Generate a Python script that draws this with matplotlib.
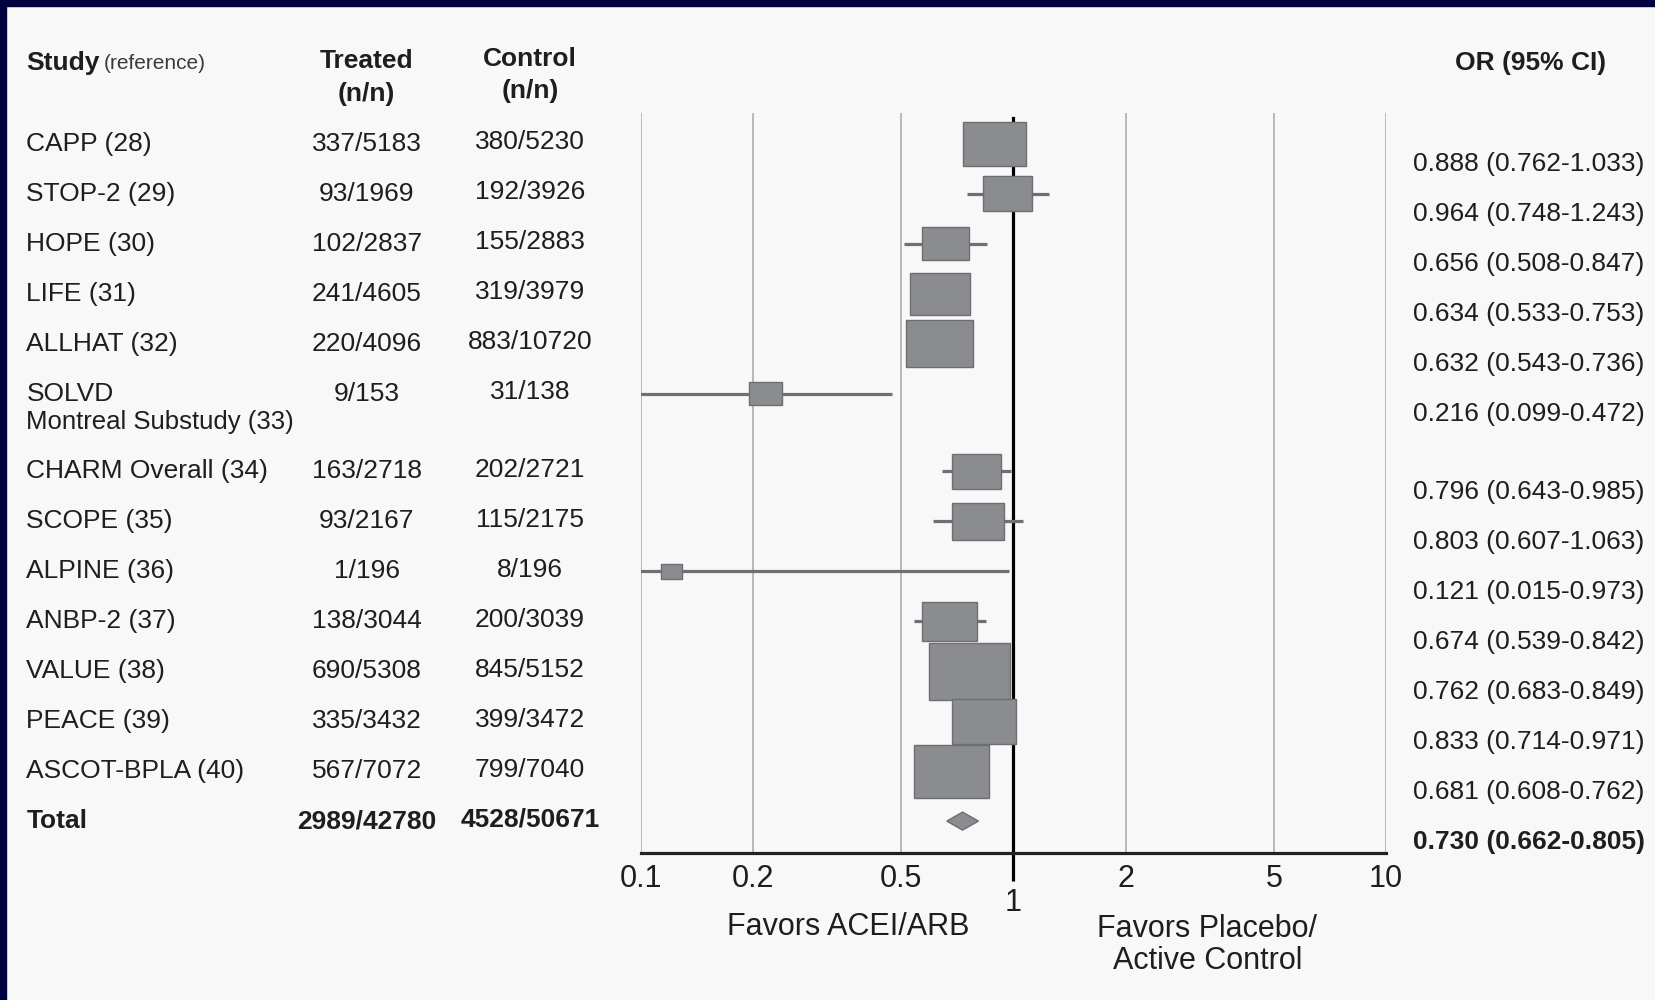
import numpy as np
import matplotlib
matplotlib.use("Agg")
import matplotlib.pyplot as plt
from matplotlib.patches import Rectangle, Polygon
from matplotlib.ticker import FixedLocator, FixedFormatter
from matplotlib.transforms import blended_transform_factory

plt.rcParams['font.family'] = ['Liberation Sans', 'DejaVu Sans']

# data
studies = ["CAPP (28)", "STOP-2 (29)", "HOPE (30)", "LIFE (31)", "ALLHAT (32)",
           "SOLVD", "CHARM Overall (34)", "SCOPE (35)", "ALPINE (36)",
           "ANBP-2 (37)", "VALUE (38)", "PEACE (39)", "ASCOT-BPLA (40)"]
treated = ["337/5183", "93/1969", "102/2837", "241/4605", "220/4096", "9/153",
           "163/2718", "93/2167", "1/196", "138/3044", "690/5308", "335/3432",
           "567/7072"]
control = ["380/5230", "192/3926", "155/2883", "319/3979", "883/10720", "31/138",
           "202/2721", "115/2175", "8/196", "200/3039", "845/5152", "399/3472",
           "799/7040"]
odds = [0.888, 0.964, 0.656, 0.634, 0.632, 0.216, 0.796, 0.803, 0.121, 0.674,
        0.762, 0.833, 0.681]
ci_low = [0.762, 0.748, 0.508, 0.533, 0.543, 0.099, 0.643, 0.607, 0.015, 0.539,
          0.683, 0.714, 0.608]
ci_high = [1.033, 1.243, 0.847, 0.753, 0.736, 0.472, 0.985, 1.063, 0.973, 0.842,
           0.849, 0.971, 0.762]
# relative study weight (box size)
weights = [0.88, 0.70, 0.66, 0.84, 0.94, 0.46, 0.70, 0.74, 0.30, 0.78, 1.14,
           0.90, 1.06]
total_treated, total_control = "2989/42780", "4528/50671"
total_or, total_lo, total_hi = 0.730, 0.662, 0.805
tick_vals = [0.1, 0.2, 0.5, 2, 5, 10]
tick_labels = ["0.1", "0.2", "0.5", "2", "5", "10"]

text_col = '#1e1e1e'
box_col = '#8a8c90'
edge_col = '#6c6e72'
line_col = '#6e7074'
narrow = ['Liberation Sans Narrow', 'Liberation Sans', 'DejaVu Sans']

fig = plt.figure(figsize=(16.56, 10), dpi=100, facecolor='#f8f8f8')
# navy frame on top and left
fig.patches.append(Rectangle((0, 0), 6 / 1656, 1, transform=fig.transFigure,
                             color='#00003f', zorder=0))
fig.patches.append(Rectangle((0, 1 - 6 / 1000), 1, 6 / 1000, transform=fig.transFigure,
                             color='#00003f', zorder=0))

ax = fig.add_axes([641 / 1656, 0.147, 745 / 1656, 0.74])
ax.set_facecolor('none')
ax.set_xscale('log')
ax.set_xlim(0.1, 10)
ax.set_ylim(14.188, -0.612)

n = len(studies)
idx = np.arange(n)
ypos = idx + np.where(idx >= 6, 0.55, 0.0)
y_total = n + 0.55

# grid and reference line
for v in tick_vals:
    ax.axvline(v, color='#a8a8a8', lw=1.1, zorder=0.5)
ax.axvline(1, ymin=0, ymax=0.993, color='black', lw=2.3, zorder=1.5)

# CI lines and boxes
for i in range(n):
    ax.plot([ci_low[i], ci_high[i]], [ypos[i], ypos[i]], color=line_col,
            lw=2.3, solid_capstyle='butt', zorder=2)
    h = weights[i]
    w = h * 0.1906  # width in decades
    x0 = odds[i] * 10 ** (-w / 2)
    x1 = odds[i] * 10 ** (w / 2)
    ax.add_patch(Rectangle((x0, ypos[i] - h / 2), x1 - x0, h, facecolor=box_col,
                           edgecolor=edge_col, lw=1.0, zorder=3))

ax.add_patch(Polygon([(total_lo, y_total), (total_or, y_total - 0.18),
                      (total_hi, y_total), (total_or, y_total + 0.18)],
                     closed=True, facecolor=box_col, edgecolor=edge_col, lw=1.0,
                     zorder=3))

for s in ['top', 'left', 'right']:
    ax.spines[s].set_visible(False)
ax.spines['bottom'].set_color('#222222')
ax.spines['bottom'].set_linewidth(2.3)
ax.set_yticks([])
ax.xaxis.set_major_locator(FixedLocator(tick_vals))
ax.xaxis.set_major_formatter(FixedFormatter(tick_labels))
ax.xaxis.set_minor_locator(FixedLocator([1]))
ax.xaxis.set_minor_formatter(FixedFormatter(["1"]))
ax.tick_params(axis='x', which='major', length=0, pad=8, labelsize=22,
               labelcolor=text_col)
ax.tick_params(axis='x', which='minor', length=20, width=2.3, color='black',
               pad=5, labelsize=22, labelcolor=text_col)
for lab in ax.get_xticklabels(which='both'):
    lab.set_family(narrow)
for lab in ax.get_xticklabels(minor=True):
    lab.set_family(narrow)

# table columns
tr = blended_transform_factory(fig.transFigure, ax.transData)
fs = 19
x_study, x_treat, x_ctrl, x_or = 0.016, 0.2215, 0.320, 0.853

ax.text(x_study, -1.61, "Study", transform=tr, fontsize=fs, fontweight='bold',
        color=text_col, va='center', ha='left', clip_on=False)
ax.text(x_study + 0.0465, -1.61, "(reference)", transform=tr, fontsize=15,
        color='#3a3a3a', va='center', ha='left', clip_on=False)
ax.text(x_treat, -1.65, "Treated", transform=tr, fontsize=fs, fontweight='bold',
        color=text_col, va='center', ha='center', clip_on=False)
ax.text(x_treat, -0.99, "(n/n)", transform=tr, fontsize=fs, fontweight='bold',
        color=text_col, va='center', ha='center', clip_on=False)
ax.text(x_ctrl, -1.69, "Control", transform=tr, fontsize=fs, fontweight='bold',
        color=text_col, va='center', ha='center', clip_on=False)
ax.text(x_ctrl, -1.05, "(n/n)", transform=tr, fontsize=fs, fontweight='bold',
        color=text_col, va='center', ha='center', clip_on=False)
ax.text(0.924, -1.61, "OR (95% CI)", transform=tr, fontsize=fs, fontweight='bold',
        color=text_col, va='center', ha='center', clip_on=False)

for i in range(n):
    y = ypos[i]
    ax.text(x_study, y, studies[i], transform=tr, fontsize=fs, color=text_col,
            va='center', ha='left', clip_on=False)
    ax.text(x_treat, y, treated[i], transform=tr, fontsize=fs, color=text_col,
            va='center', ha='center', clip_on=False)
    ax.text(x_ctrl, y - 0.03, control[i], transform=tr, fontsize=fs, color=text_col,
            va='center', ha='center', clip_on=False)
    ax.text(x_or, y + 0.41, f"{odds[i]:.3f} ({ci_low[i]:.3f}-{ci_high[i]:.3f})",
            transform=tr, fontsize=fs, color=text_col, va='center', ha='left',
            clip_on=False)
ax.text(x_study, 5.57, "Montreal Substudy (33)", transform=tr, fontsize=18.5,
        color=text_col, va='center', ha='left', clip_on=False)

ax.text(x_study, y_total, "Total", transform=tr, fontsize=fs, fontweight='bold',
        color=text_col, va='center', ha='left', clip_on=False)
ax.text(x_treat, y_total, total_treated, transform=tr, fontsize=fs,
        fontweight='bold', color=text_col, va='center', ha='center', clip_on=False)
ax.text(x_ctrl, y_total - 0.03, total_control, transform=tr, fontsize=fs,
        fontweight='bold', color=text_col, va='center', ha='center', clip_on=False)
ax.text(x_or, y_total + 0.41, f"{total_or:.3f} ({total_lo:.3f}-{total_hi:.3f})",
        transform=tr, fontsize=fs, fontweight='bold', color=text_col, va='center',
        ha='left', clip_on=False)

fig.text(0.512, 0.073, "Favors ACEI/ARB", fontsize=22, color=text_col,
         ha='center', va='center')
fig.text(0.729, 0.055, "Favors Placebo/\nActive Control", fontsize=22,
         color=text_col, ha='center', va='center', linespacing=1.1)

fig.savefig("out.png", dpi=100, facecolor=fig.get_facecolor())
